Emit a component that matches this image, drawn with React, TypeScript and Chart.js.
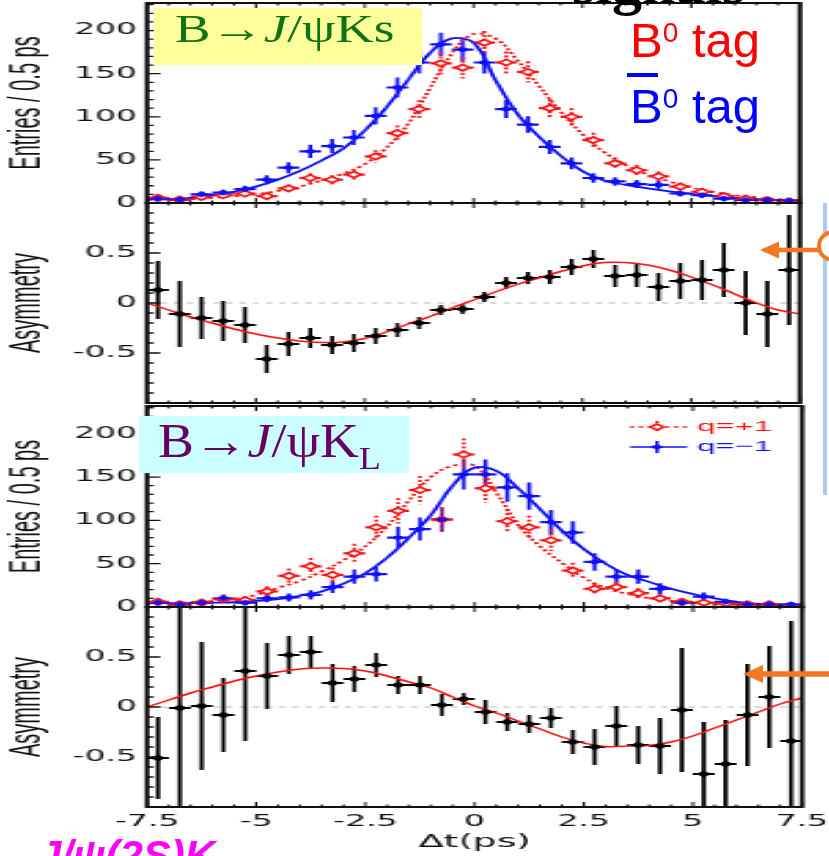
import React, { useEffect, useRef } from 'react';
import { Chart, registerables } from 'chart.js';

Chart.register(...registerables);

// ---------------- data ----------------
const BINS = [-7.25, -6.75, -6.25, -5.75, -5.25, -4.75, -4.25, -3.75, -3.25, -2.75, -2.25, -1.75, -1.25, -0.75, -0.25,
  0.25, 0.75, 1.25, 1.75, 2.25, 2.75, 3.25, 3.75, 4.25, 4.75, 5.25, 5.75, 6.25, 6.75, 7.25];
const CURVE_T = [-7.5, -7, -6.5, -6, -5.5, -5, -4.5, -4, -3.5, -3, -2.5, -2, -1.5, -1, -0.5, 0,
  0.5, 1, 1.5, 2, 2.5, 3, 3.5, 4, 4.5, 5, 5.5, 6, 6.5, 7, 7.5];
const BIN_HALF_WIDTH = 0.25;

// B -> J/psi Ks
const KS_B0_TAG = [6, 4, 7, 9, 11, 8, 17, 29, 27, 33, 54, 81, 109, 162, 157, 186, 163, 152, 110, 100, 73, 46, 38, 31, 19, 13, 8, 5, 3.5, 2];
const KS_B0_TAG_ERR = [2.4, 2, 2.6, 3, 3.3, 2.8, 4.1, 5.4, 5.2, 5.7, 7.3, 9, 10.4, 12.7, 12.5, 13.6, 12.8, 12.3, 10.5, 10, 8.5, 6.8, 6.2, 5.6, 4.4, 3.6, 2.8, 2.2, 1.9, 1.4];
const KS_B0BAR_TAG = [5, 4, 10, 12, 16, 27, 41, 60, 66, 76, 101, 134, 163, 184, 178, 163, 109, 91, 65, 46, 29, 25, 22, 21, 11, 9, 5, 3.5, 3.5, 2.5];
const KS_B0BAR_TAG_ERR = [2.2, 2, 3.2, 3.5, 4, 5.2, 6.4, 7.7, 8.1, 8.7, 10, 11.6, 12.8, 13.6, 13.3, 12.8, 10.4, 9.5, 8.1, 6.8, 5.4, 5, 4.7, 4.6, 3.3, 3, 2.2, 1.9, 1.9, 1.6];
const KS_B0_FIT = [4, 4, 4.5, 6, 8, 10, 14, 19, 26, 34, 45, 64, 92, 133, 173, 196, 191, 166, 136, 106, 80, 59, 44, 33, 25, 18, 13, 9, 6.5, 4.5, 3.5];
const KS_B0BAR_FIT = [4, 4.5, 6, 9, 13, 19, 27, 37, 49, 63, 84, 111, 143, 174, 191, 186, 143, 104, 77, 55, 37, 26, 21, 17, 13.5, 10.5, 8, 6, 4.5, 3.5, 2.7];
const KS_ASYM = [0.13, -0.11, -0.15, -0.18, -0.22, -0.56, -0.41, -0.35, -0.42, -0.40, -0.33, -0.27, -0.20, -0.07, -0.06,
  0.06, 0.20, 0.25, 0.26, 0.36, 0.44, 0.27, 0.28, 0.16, 0.22, 0.23, 0.33, 0.00, -0.11, 0.33];
const KS_ASYM_ERR = [0.29, 0.33, 0.21, 0.20, 0.18, 0.14, 0.12, 0.10, 0.09, 0.09, 0.08, 0.07, 0.06, 0.05, 0.05,
  0.05, 0.06, 0.06, 0.07, 0.08, 0.09, 0.11, 0.12, 0.14, 0.18, 0.20, 0.27, 0.32, 0.33, 0.55];
const KS_ASYM_FIT = [0.00, -0.07, -0.14, -0.20, -0.26, -0.31, -0.35, -0.38, -0.395, -0.39, -0.355, -0.29, -0.21, -0.135, -0.05, 0.03,
  0.11, 0.185, 0.25, 0.315, 0.37, 0.405, 0.405, 0.38, 0.33, 0.26, 0.18, 0.09, 0.00, -0.07, -0.11];

// B -> J/psi KL
const KL_QPLUS = [6, 3, 5, 9, 8, 18, 36, 47, 37, 62, 92, 111, 135, 101, 176, 137, 99, 92, 77, 42, 21, 23, 16, 10, 6, 5, 4, 3, 3, 1];
const KL_QPLUS_ERR = [3.4, 2.4, 3.1, 4.2, 4, 5.9, 8.4, 9.6, 8.5, 11, 13.4, 14.7, 16.3, 14, 18.6, 16.4, 13.9, 13.4, 12.3, 9.1, 6.4, 6.7, 5.6, 4.4, 3.4, 3.1, 2.8, 2.4, 2.4, 1.4];
const KL_QMINUS = [5, 3, 5, 10, 5, 10, 11, 14, 23, 35, 38, 80, 90, 101, 153, 153, 138, 128, 98, 86, 52, 35, 35, 21, 5, 12, 6, 3, 3, 3];
const KL_QMINUS_ERR = [3.1, 2.4, 3.1, 4.4, 3.1, 4.4, 4.6, 5.2, 6.7, 8.3, 8.6, 12.5, 13.3, 14, 17.3, 17.3, 16.4, 15.8, 13.9, 13, 10.1, 8.3, 8.3, 6.4, 3.1, 4.8, 3.4, 2.4, 2.4, 2.4];
const KL_QPLUS_FIT = [4, 4.5, 5.5, 7, 9.5, 14, 22, 30, 41, 54, 70, 93, 123, 150, 163, 163, 132, 95, 70, 51, 34, 22, 15, 10, 7, 5, 3.5, 2.5, 2, 1.5, 1];
const KL_QMINUS_FIT = [5, 4.5, 4.5, 5, 5.5, 7, 9, 13, 18, 27, 39, 57, 80, 106, 140, 161, 157, 137, 113, 88, 67, 50, 37, 29, 21, 15, 10, 6, 3.5, 2, 1.2];
const KL_ASYM = [-0.51, -0.01, 0.01, -0.08, 0.36, 0.31, 0.52, 0.55, 0.24, 0.28, 0.42, 0.22, 0.22, 0.02, 0.08,
  -0.05, -0.15, -0.17, -0.11, -0.35, -0.40, -0.19, -0.38, -0.39, -0.03, -0.67, -0.57, -0.08, 0.10, -0.34];
const KL_ASYM_ERR = [0.41, 1.2, 0.64, 0.37, 0.70, 0.33, 0.19, 0.16, 0.19, 0.13, 0.12, 0.09, 0.09, 0.11, 0.06,
  0.12, 0.09, 0.09, 0.10, 0.12, 0.18, 0.20, 0.19, 0.28, 0.62, 0.52, 0.44, 0.51, 0.51, 1.2];
const KL_ASYM_FIT = [0.00, 0.07, 0.14, 0.20, 0.26, 0.31, 0.35, 0.38, 0.39, 0.385, 0.36, 0.31, 0.25, 0.19, 0.10, 0.01,
  -0.06, -0.14, -0.22, -0.30, -0.36, -0.395, -0.39, -0.385, -0.35, -0.29, -0.21, -0.13, -0.05, 0.03, 0.09];

// tick labels
const DT_TICKS = [-7.5, -5, -2.5, 0, 2.5, 5, 7.5];
const ENTRY_TICKS = [0, 50, 100, 150, 200];
const ASYM_TICKS = [-0.5, 0, 0.5];
const Q_LEGEND = ['q=+1', 'q=\u22121'];

// ---------------- geometry / style ----------------
const PAGE_W = 829;
const PAGE_H = 856;
const CANVAS_W = 377;
const SX = PAGE_W / CANVAS_W; // the original figure is stretched horizontally
const RED = '#ff1010';
const BLUE = '#1010ff';
const INK = '#111111';
const ORANGE = '#f07820';

const pts = (ys: number[]) => BINS.map((x, i) => ({ x, y: ys[i] }));
const curve = (ys: number[]) => CURVE_T.map((x, i) => ({ x, y: ys[i] }));

function entryDatasets(pos: number[], posErr: number[], posFit: number[], neg: number[], negErr: number[], negFit: number[]) {
  return [
    { data: pts(neg), errY: negErr, errX: BIN_HALF_WIDTH, errColor: BLUE, showLine: false,
      pointStyle: 'rectRot', pointRadius: 2.6, backgroundColor: BLUE, borderColor: BLUE, borderWidth: 1 },
    { data: pts(pos), errY: posErr, errX: BIN_HALF_WIDTH, errColor: RED, errDash: [2, 2], showLine: false,
      pointStyle: 'rectRot', pointRadius: 3.2, backgroundColor: '#ffffff', borderColor: RED, borderWidth: 1.6 },
    { data: curve(negFit), showLine: true, pointRadius: 0, borderColor: BLUE, borderWidth: 1.8, tension: 0.4 },
    { data: curve(posFit), showLine: true, pointRadius: 0, borderColor: RED, borderWidth: 1.8, borderDash: [2, 2], tension: 0.4 },
  ];
}

function asymDatasets(vals: number[], errs: number[], fit: number[]) {
  return [
    { data: pts(vals), errY: errs, errX: BIN_HALF_WIDTH, errColor: '#000', showLine: false,
      pointStyle: 'rectRot', pointRadius: 3.4, backgroundColor: '#000', borderColor: '#000', borderWidth: 0 },
    { data: curve(fit), showLine: true, pointRadius: 0, borderColor: RED, borderWidth: 1.5, tension: 0.4 },
  ];
}

type Panel = { top: number; bottom: number; right: number; asym: boolean; yTitle: string; showX: boolean; datasets: any[]; legend?: boolean };

const PANELS: Panel[] = [
  { top: 3, bottom: 203, right: 800, asym: false, yTitle: 'Entries / 0.5 ps', showX: false,
    datasets: entryDatasets(KS_B0_TAG, KS_B0_TAG_ERR, KS_B0_FIT, KS_B0BAR_TAG, KS_B0BAR_TAG_ERR, KS_B0BAR_FIT) },
  { top: 203, bottom: 403, right: 800, asym: true, yTitle: 'Asymmetry', showX: false,
    datasets: asymDatasets(KS_ASYM, KS_ASYM_ERR, KS_ASYM_FIT) },
  { top: 406, bottom: 607, right: 802, asym: false, yTitle: 'Entries / 0.5 ps', showX: false, legend: true,
    datasets: entryDatasets(KL_QPLUS, KL_QPLUS_ERR, KL_QPLUS_FIT, KL_QMINUS, KL_QMINUS_ERR, KL_QMINUS_FIT) },
  { top: 607, bottom: 807, right: 802, asym: true, yTitle: 'Asymmetry', showX: true,
    datasets: asymDatasets(KL_ASYM, KL_ASYM_ERR, KL_ASYM_FIT) },
];

// ---------------- plugins ----------------
const framePlugin = {
  id: 'frame',
  beforeDatasetsDraw(chart: any, _a: any, opts: any) {
    if (!opts || !opts.zeroLine) return;
    const { ctx, chartArea: a } = chart;
    const y0 = chart.scales.y.getPixelForValue(0);
    ctx.save();
    ctx.strokeStyle = '#b8b8b8';
    ctx.lineWidth = 1;
    ctx.setLineDash([3, 3]);
    ctx.beginPath();
    ctx.moveTo(a.left, y0);
    ctx.lineTo(a.right, y0);
    ctx.stroke();
    ctx.restore();
  },
  afterDatasetsDraw(chart: any, _a: any, opts: any) {
    const { ctx, chartArea: a } = chart;
    const xs = chart.scales.x;
    const ys = chart.scales.y;
    ctx.save();
    ctx.strokeStyle = INK;
    ctx.lineWidth = 1;
    ctx.beginPath();
    for (let k = 0; k <= 30; k++) {
      const px = xs.getPixelForValue(xs.min + k * 0.5);
      const len = k % 5 === 0 ? 5 : 2.5;
      ctx.moveTo(px, a.bottom);
      ctx.lineTo(px, a.bottom - len);
      ctx.moveTo(px, a.top);
      ctx.lineTo(px, a.top + len);
    }
    ctx.stroke();
    ctx.lineWidth = 1.3;
    ctx.beginPath();
    const n = Math.round((ys.max - ys.min) / opts.minor);
    for (let k = 0; k <= n; k++) {
      const v = ys.min + k * opts.minor;
      const py = ys.getPixelForValue(v);
      const r = v / opts.major;
      const major = Math.abs(r - Math.round(r)) < 1e-6;
      ctx.moveTo(a.left, py);
      ctx.lineTo(a.left + (major ? 6 : 3), py);
    }
    ctx.stroke();
    ctx.lineWidth = 2;
    ctx.strokeRect(a.left, a.top, a.right - a.left, a.bottom - a.top);
    ctx.restore();
  },
};

const errorBarPlugin = {
  id: 'errbars',
  beforeDatasetsDraw(chart: any) {
    const { ctx, chartArea: a } = chart;
    const xs = chart.scales.x;
    const ys = chart.scales.y;
    ctx.save();
    ctx.beginPath();
    ctx.rect(a.left, a.top, a.right - a.left, a.bottom - a.top);
    ctx.clip();
    chart.data.datasets.forEach((ds: any) => {
      if (!ds.errY) return;
      ctx.strokeStyle = ds.errColor;
      ctx.setLineDash(ds.errDash || []);
      ds.data.forEach((p: any, j: number) => {
        const x = xs.getPixelForValue(p.x);
        const y = ys.getPixelForValue(p.y);
        ctx.lineWidth = 1.8;
        ctx.beginPath();
        ctx.moveTo(x, ys.getPixelForValue(p.y + ds.errY[j]));
        ctx.lineTo(x, ys.getPixelForValue(p.y - ds.errY[j]));
        ctx.stroke();
        ctx.lineWidth = 2.2;
        ctx.beginPath();
        ctx.moveTo(xs.getPixelForValue(p.x - ds.errX), y);
        ctx.lineTo(xs.getPixelForValue(p.x + ds.errX), y);
        ctx.stroke();
      });
    });
    ctx.restore();
  },
};

function diamond(ctx: any, x: number, y: number, r: number) {
  ctx.beginPath();
  ctx.moveTo(x, y - r);
  ctx.lineTo(x + r, y);
  ctx.lineTo(x, y + r);
  ctx.lineTo(x - r, y);
  ctx.closePath();
}

const qLegendPlugin = {
  id: 'qlegend',
  afterDatasetsDraw(chart: any, _a: any, opts: any) {
    if (!opts || !opts.show) return;
    const { ctx } = chart;
    const x0 = 630 / SX, x1 = 687 / SX, xm = 657 / SX, xt = 697 / SX;
    const rows = [
      { y: 427, color: RED, dashed: true, label: Q_LEGEND[0] },
      { y: 447, color: BLUE, dashed: false, label: Q_LEGEND[1] },
    ];
    ctx.save();
    rows.forEach((r) => {
      ctx.strokeStyle = r.color;
      ctx.fillStyle = r.color;
      ctx.lineWidth = 1.6;
      ctx.setLineDash(r.dashed ? [2, 2] : []);
      ctx.beginPath();
      ctx.moveTo(x0, r.y);
      ctx.lineTo(x1, r.y);
      ctx.moveTo(xm, r.y - 6);
      ctx.lineTo(xm, r.y + 6);
      ctx.stroke();
      ctx.setLineDash([]);
      diamond(ctx, xm, r.y, 3);
      if (r.dashed) {
        ctx.fillStyle = '#fff';
        ctx.fill();
        ctx.stroke();
        ctx.fillStyle = r.color;
      } else {
        ctx.fill();
      }
      ctx.font = '15px "Liberation Sans", Arial, sans-serif';
      ctx.textBaseline = 'middle';
      ctx.textAlign = 'left';
      ctx.fillText(r.label, xt, r.y);
    });
    ctx.restore();
  },
};

const noScalePadding = (s: any) => {
  s.paddingTop = 0;
  s.paddingBottom = 0;
  s.paddingLeft = 0;
  s.paddingRight = 0;
};

function makeConfig(p: Panel): any {
  const leftI = 147 / SX;
  const rightI = p.right / SX;
  return {
    type: 'scatter',
    data: { datasets: p.datasets },
    options: {
      responsive: false,
      animation: false,
      events: [],
      layout: {
        autoPadding: false,
        padding: { left: 0, right: CANVAS_W - rightI, top: p.top, bottom: p.showX ? 0 : PAGE_H - p.bottom },
      },
      plugins: {
        legend: { display: false },
        tooltip: { enabled: false },
        frame: { zeroLine: p.asym, minor: p.asym ? 0.1 : 10, major: p.asym ? 0.5 : 50 },
        qlegend: { show: !!p.legend },
      },
      scales: {
        x: {
          type: 'linear',
          min: -7.5,
          max: 7.5,
          display: p.showX,
          afterBuildTicks: (s: any) => { s.ticks = DT_TICKS.map((v) => ({ value: v })); },
          afterFit: (s: any) => { s.height = p.showX ? PAGE_H - p.bottom : 0; noScalePadding(s); },
          grid: { display: false, drawTicks: false },
          border: { display: false },
          ticks: {
            padding: 6, autoSkip: false, maxRotation: 0, color: INK,
            font: { size: 15, family: '"DejaVu Sans", sans-serif' },
            callback: (v: any) => String(v),
          },
          title: {
            display: true, text: '\u0394t(ps)', color: INK,
            font: { size: 17, family: '"DejaVu Sans", sans-serif' },
            padding: { top: 0, bottom: 3 },
          },
        },
        y: {
          type: 'linear',
          position: 'left',
          min: p.asym ? -1 : 0,
          max: p.asym ? 1 : 232,
          afterBuildTicks: (s: any) => { s.ticks = (p.asym ? ASYM_TICKS : ENTRY_TICKS).map((v) => ({ value: v })); },
          afterFit: (s: any) => { s.width = leftI; noScalePadding(s); },
          grid: { display: false, drawTicks: false },
          border: { display: false },
          ticks: {
            padding: 4.5, color: INK,
            font: { size: 15, family: '"DejaVu Sans", sans-serif' },
            callback: (v: any) => String(v),
          },
          title: {
            display: true, text: p.yTitle, color: INK,
            font: { size: 20, family: '"Liberation Sans", Arial, sans-serif' },
            padding: { top: 0.5, bottom: 0 },
          },
        },
      },
    },
    plugins: [framePlugin, errorBarPlugin, qLegendPlugin],
  };
}

const abs = (o: any): any => ({ position: 'absolute', whiteSpace: 'nowrap', lineHeight: 1, ...o });

export default function App() {
  const r0 = useRef<HTMLCanvasElement>(null);
  const r1 = useRef<HTMLCanvasElement>(null);
  const r2 = useRef<HTMLCanvasElement>(null);
  const r3 = useRef<HTMLCanvasElement>(null);
  const refs = [r0, r1, r2, r3];

  useEffect(() => {
    const charts = PANELS.map((p, i) => new Chart(refs[i].current as HTMLCanvasElement, makeConfig(p)));
    return () => charts.forEach((c) => c.destroy());
  }, []);

  return (
    <div style={{ position: 'absolute', left: 0, top: 0, width: PAGE_W, height: PAGE_H, overflow: 'hidden', background: '#fff' }}>
      <div style={{ position: 'absolute', left: 0, top: 0, width: CANVAS_W, height: PAGE_H, transform: `scaleX(${SX})`, transformOrigin: '0 0' }}>
        {refs.map((r, i) => (
          <canvas key={i} ref={r} width={CANVAS_W} height={PAGE_H}
            style={{ position: 'absolute', left: 0, top: 0, width: CANVAS_W, height: PAGE_H }} />
        ))}
      </div>

      {/* decay-mode labels */}
      <div style={abs({ left: 154, top: 8, width: 268, height: 57, background: '#ffff9c' })} />
      <div style={abs({ left: 175, top: 8.5, fontFamily: '"Liberation Serif", serif', fontSize: 40, color: '#0f730f', transform: 'scaleX(1.33)', transformOrigin: '0 0' })}>
        B→<i>J</i>/ψKs
      </div>
      <div style={abs({ left: 139, top: 416, width: 270, height: 57, background: '#ccffff' })} />
      <div style={abs({ left: 158, top: 417, fontFamily: '"Liberation Serif", serif', fontSize: 48, color: '#660066', transform: 'scaleX(1.12)', transformOrigin: '0 0' })}>
        B→<i>J</i>/ψK<span style={{ fontSize: 32, position: 'relative', top: 12 }}>L</span>
      </div>

      {/* tag labels */}
      <div style={abs({ left: 630, top: 15.5, fontFamily: '"Liberation Sans", Arial, sans-serif', fontSize: 49, color: '#ff0000' })}>
        B<span style={{ fontSize: 28, position: 'relative', top: -15 }}>0</span> tag
      </div>
      <div style={abs({ left: 627, top: 73, width: 31, height: 4, background: '#0000ff' })} />
      <div style={abs({ left: 630, top: 81.5, fontFamily: '"Liberation Sans", Arial, sans-serif', fontSize: 49, color: '#0000ff' })}>
        B<span style={{ fontSize: 28, position: 'relative', top: -15 }}>0</span> tag
      </div>

      {/* clipped slide text */}
      <div style={abs({ left: 572, top: -47, fontFamily: '"Liberation Serif", serif', fontWeight: 'bold', fontSize: 60, color: '#000' })}>
        signals
      </div>
      <div style={abs({ left: 38, top: 835, fontFamily: '"Liberation Sans", Arial, sans-serif', fontWeight: 'bold', fontStyle: 'italic', fontSize: 42, color: '#ff00ff' })}>
        J/ψ(2S)K
      </div>

      <svg width={PAGE_W} height={PAGE_H} style={{ position: 'absolute', left: 0, top: 0 }}>
        <rect x={823} y={203} width={4} height={292} fill="#a9cbf0" />
        <circle cx={833} cy={246} r={14} fill="#ffffff" stroke={ORANGE} strokeWidth={4} />
        <line x1={776} y1={250} x2={819} y2={250} stroke={ORANGE} strokeWidth={4.5} />
        <polygon points="760,250 779,241.5 779,258.5" fill={ORANGE} />
        <line x1={760} y1={674} x2={829} y2={674} stroke={ORANGE} strokeWidth={5.5} />
        <polygon points="743,674 763,665 763,683" fill={ORANGE} />
      </svg>
    </div>
  );
}
